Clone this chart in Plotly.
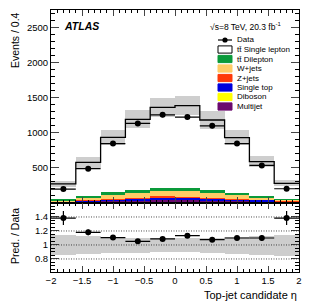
import plotly.graph_objects as go

# ---------------- data ----------------
bin_lo = [-2.0, -1.6, -1.2, -0.8, -0.4, 0.0, 0.4, 0.8, 1.2, 1.6]
BIN_W = 0.4
x_ticks = [-2, -1.5, -1, -0.5, 0, 0.5, 1, 1.5, 2]
x_tick_labels = ["\u22122", "\u22121.5", "\u22121", "\u22120.5", "0", "0.5", "1", "1.5", "2"]

multijet = [12, 20, 28, 33, 42, 42, 33, 27, 22, 14]
diboson = [1, 2, 3, 3, 4, 4, 3, 3, 2, 1]
single_top = [8, 14, 22, 28, 34, 33, 27, 21, 15, 9]
z_jets = [2, 4, 7, 9, 10, 10, 9, 7, 5, 3]
w_jets = [15, 30, 55, 70, 81, 82, 66, 50, 34, 17]
tt_dilep = [12, 20, 33, 38, 43, 43, 38, 30, 22, 13]
tt_single = [220, 485, 786, 1010, 1149, 1172, 1005, 791, 486, 220]

data = [195, 487, 845, 1132, 1255, 1223, 1098, 845, 533, 200]
data_err = [14, 22, 29, 34, 35, 35, 33, 29, 23, 14]
unc_rel = [0.145, 0.13, 0.117, 0.107, 0.10, 0.10, 0.105, 0.118, 0.135, 0.148]
ratio_err = [0.10, 0.04, 0.03, 0.025, 0.025, 0.025, 0.025, 0.03, 0.04, 0.10]

components = [
    ("Multijet", multijet, "#6a0a6e"),
    ("Diboson", diboson, "#ffff00"),
    ("Single top", single_top, "#0000dd"),
    ("Z+jets", z_jets, "#ff3a0a"),
    ("W+jets", w_jets, "#ffcc66"),
    ("tt\u0304 Dilepton", tt_dilep, "#0a9a3a"),
    ("tt\u0304 Single lepton", tt_single, "#ffffff"),
]

centers = [lo + BIN_W / 2 for lo in bin_lo]
edges = bin_lo + [bin_lo[-1] + BIN_W]
n = len(bin_lo)

total = [0.0] * n
fig = go.Figure()
for name, vals, col in components:
    fig.add_trace(go.Bar(x=centers, y=vals, base=total[:], width=BIN_W,
                         marker=dict(color=col, line=dict(width=0)),
                         name=name, showlegend=False, xaxis="x", yaxis="y"))
    total = [t + v for t, v in zip(total, vals)]

# uncertainty band (main)
fig.add_trace(go.Bar(x=centers, y=[2 * t * u for t, u in zip(total, unc_rel)],
                     base=[t * (1 - u) for t, u in zip(total, unc_rel)], width=BIN_W,
                     marker=dict(color="rgba(180,180,180,0.65)", line=dict(width=0)),
                     showlegend=False, xaxis="x", yaxis="y"))

# total outline step
fig.add_trace(go.Scatter(x=edges, y=total + [total[-1]], mode="lines", line_shape="hv",
                         line=dict(color="black", width=1.3), showlegend=False,
                         xaxis="x", yaxis="y"))

# data
fig.add_trace(go.Scatter(x=centers, y=data, mode="markers",
                         marker=dict(color="black", size=6),
                         error_x=dict(type="constant", value=BIN_W / 2, color="black", thickness=1.2, width=0),
                         error_y=dict(type="data", array=data_err, color="black", thickness=1.2, width=0),
                         showlegend=False, xaxis="x", yaxis="y"))

# ratio band
fig.add_trace(go.Bar(x=centers, y=[2 * u for u in unc_rel], base=[1 - u for u in unc_rel],
                     width=BIN_W, marker=dict(color="rgb(205,205,205)", line=dict(width=0)),
                     showlegend=False, xaxis="x2", yaxis="y2"))

ratio = [t / d for t, d in zip(total, data)]
fig.add_trace(go.Scatter(x=centers, y=ratio, mode="markers",
                         marker=dict(color="black", size=6),
                         error_x=dict(type="constant", value=BIN_W / 2, color="black", thickness=1.2, width=0),
                         error_y=dict(type="data", array=ratio_err, color="black", thickness=1.2, width=0),
                         showlegend=False, xaxis="x2", yaxis="y2"))

# dotted reference lines in ratio
for v in [0.8, 1.0, 1.2, 1.4]:
    fig.add_shape(type="line", xref="x2", yref="y2", x0=-2, x1=2, y0=v, y1=v,
                  line=dict(color="black", width=0.7, dash="1px,1.5px"), layer="above")

FONT = "Liberation Sans, Arial, sans-serif"
split = 69.3 / 262

axis_common = dict(showline=True, linecolor="black", linewidth=1, mirror="ticks",
                   ticks="inside", showgrid=False, zeroline=False)

fig.update_layout(
    width=316, height=303,
    margin=dict(l=51, r=17, t=10, b=31),
    paper_bgcolor="white", plot_bgcolor="white",
    barmode="overlay", bargap=0,
    font=dict(family=FONT, size=9, color="black"),
    xaxis=dict(domain=[0, 1], anchor="y", range=[-2, 2], matches="x2",
               tickvals=x_ticks, showticklabels=False, ticklen=6,
               minor=dict(dtick=0.1, ticks="inside", ticklen=3, tickcolor="black"),
               **axis_common),
    yaxis=dict(domain=[split, 1], anchor="x", range=[0.5, 2752],
               tickvals=[500, 1000, 1500, 2000, 2500], ticklen=8,
               minor=dict(dtick=100, ticks="inside", ticklen=4, tickcolor="black"),
               tickfont=dict(size=9.5), **axis_common),
    xaxis2=dict(domain=[0, 1], anchor="y2", range=[-2, 2],
                tickvals=x_ticks, ticktext=x_tick_labels, ticklen=6,
                minor=dict(dtick=0.1, ticks="inside", ticklen=3, tickcolor="black"),
                tickfont=dict(size=9.5), **axis_common),
    yaxis2=dict(domain=[0, split], anchor="x2", range=[0.614, 1.604],
                tickvals=[0.8, 1.0, 1.2, 1.4], ticktext=["0.8", "1", "1.2", "1.4"], ticklen=8,
                minor=dict(dtick=0.05, ticks="inside", ticklen=4, tickcolor="black"),
                tickfont=dict(size=9.5), **axis_common),
)

ann = []
ann.append(dict(text="Events / 0.4", x=15, y=10, textangle=-90, font=dict(size=10.5)))
ann.append(dict(text="Pred. / Data", x=15, y=236, textangle=-90, font=dict(size=10.5)))
ann.append(dict(text="Top-jet candidate \u03b7", x=299, y=295, font=dict(size=11)))
ann.append(dict(text="<b><i>ATLAS</i></b>", x=62, y=26, font=dict(size=10.5)))
ann.append(dict(text="\u221as=8 TeV, 20.3 fb<sup>-1</sup>", x=283, y=26, font=dict(size=8.5)))

# convert pixel positions to paper coords
W, H = 316, 303
L, R, T, B = 51, 17, 10, 31
pw, ph = W - L - R, H - T - B


def px2paper(xp, yp):
    return (xp - L) / pw, 1 - (yp - T) / ph


final_ann = []
for a in ann:
    xp, yp = a.pop("x"), a.pop("y")
    px, py = px2paper(xp, yp)
    a.update(xref="paper", yref="paper", x=px, y=py, showarrow=False)
    if a["text"].startswith("Events"):
        a.update(xanchor="center", yanchor="top")
    elif a["text"].startswith("Pred"):
        a.update(xanchor="center", yanchor="middle")
    elif a["text"].startswith("Top-jet"):
        a.update(xanchor="right", yanchor="middle")
    elif "ATLAS" in a["text"]:
        a.update(xanchor="left", yanchor="middle")
    else:
        a.update(xanchor="right", yanchor="middle")
    final_ann.append(a)

# manual legend
leg_names = ["Data"] + [c[0] for c in reversed(components)]
leg_cols = [None] + [c[2] for c in reversed(components)]
leg_y0 = 40
leg_dy = 9.5
shapes = []
for i, (nm, col) in enumerate(zip(leg_names, leg_cols)):
    yc = leg_y0 + i * leg_dy
    if col is None:
        x0, y0 = px2paper(218, yc)
        x1, _ = px2paper(232, yc)
        shapes.append(dict(type="line", xref="paper", yref="paper", x0=x0, x1=x1, y0=y0, y1=y0,
                           line=dict(color="black", width=1.2)))
        xc, _ = px2paper(225, yc)
        shapes.append(dict(type="circle", xref="paper", yref="paper",
                           x0=xc - 2.6 / pw, x1=xc + 2.6 / pw, y0=y0 - 2.6 / ph, y1=y0 + 2.6 / ph,
                           fillcolor="black", line=dict(color="black", width=0)))
    else:
        x0, y0 = px2paper(218, yc - 3.6)
        x1, y1 = px2paper(232, yc + 3.6)
        shapes.append(dict(type="rect", xref="paper", yref="paper", x0=x0, x1=x1, y0=y1, y1=y0,
                           fillcolor=col,
                           line=dict(color="black" if col == "#ffffff" else col, width=1)))
    tx, ty = px2paper(235, yc)
    final_ann.append(dict(text=nm, x=tx, y=ty, xref="paper", yref="paper", xanchor="left",
                          yanchor="middle", showarrow=False, font=dict(size=8)))

fig.update_layout(annotations=final_ann)
for s in shapes:
    fig.add_shape(**s)

fig.write_html("out.html", config={"displayModeBar": False})

# remove the browser's default page margin so the figure sits at the window origin
with open("out.html", "r", encoding="utf-8") as f:
    html = f.read()
html = html.replace("<head>", "<head><style>html,body{margin:0;padding:0;overflow:hidden;}</style>", 1)
with open("out.html", "w", encoding="utf-8") as f:
    f.write(html)
